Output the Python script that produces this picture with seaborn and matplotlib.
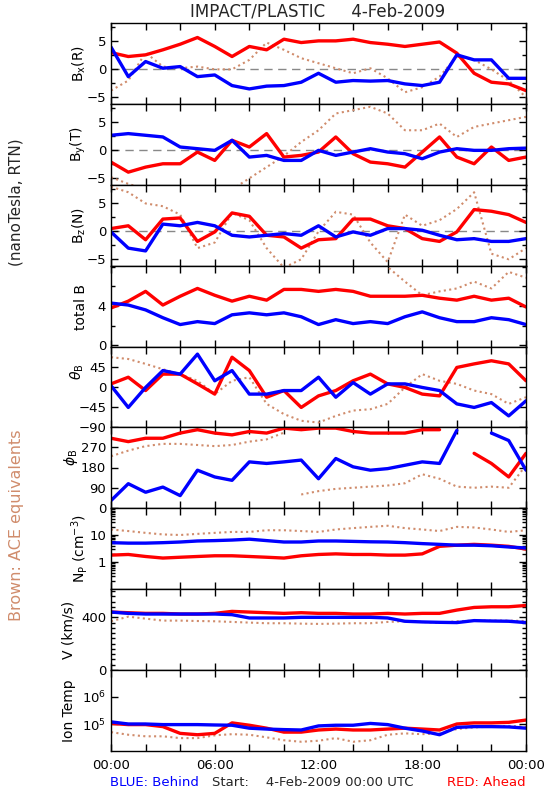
import matplotlib
matplotlib.use("Agg")
import matplotlib.pyplot as plt
import pandas as pd
import seaborn as sns
from matplotlib.ticker import MultipleLocator, FixedLocator, FixedFormatter, NullFormatter, LogLocator

# hourly samples, 00:00 to 24:00 UT on 4-Feb-2009
hours = list(range(25))

# Bx (R), nT
bx_ahead = [3.0, 2.3, 2.6, 3.5, 4.5, 5.7, 4.1, 2.3, 4.1, 3.5, 5.4, 4.8, 5.1, 5.1, 5.4, 4.8, 4.5, 4.1, 4.5, 4.9, 2.9, -0.7, -2.3, -2.6, -3.8]
bx_behind = [4.0, -1.3, 1.4, 0.2, 0.5, -1.3, -1.0, -2.9, -3.5, -3.0, -2.9, -2.3, -0.7, -2.3, -2.0, -2.1, -2.0, -2.6, -2.9, -2.3, 2.6, 1.7, 1.7, -1.6, -1.6]
bx_ace = [-3.8, -2.0, 3.0, 0.5, 0.2, 0.5, 0.0, 0.0, 1.7, 4.8, 3.5, 2.0, 1.1, 0.2, -0.7, 0.2, -1.6, -4.1, -3.2, -1.3, 2.3, 1.7, 0.0, -2.0, -5.0]

# By (T), nT
by_ahead = [-2.1, -3.9, -3.0, -2.4, -2.4, -0.3, -1.8, 1.8, 0.6, 3.0, -1.2, -0.9, -0.3, 2.4, -0.6, -2.1, -2.4, -3.0, -0.3, 2.4, -1.2, -2.4, 0.6, -1.8, -1.2]
by_behind = [2.7, 3.0, 2.7, 2.4, 0.6, 0.3, 0.0, 1.8, -1.2, -0.9, -1.8, -1.8, 0.0, -0.9, -0.3, 0.3, -0.3, -0.6, -1.5, -0.3, 0.3, 0.0, 0.0, 0.3, 0.4]
by_ace = [-4.8, -6.0, -7.0, -8.0, -8.0, -8.0, -8.0, -7.0, -5.0, -3.0, -1.0, 1.5, 3.6, 6.6, 7.2, 7.8, 6.6, 3.6, 3.6, 4.8, 2.4, 4.2, 4.8, 5.4, 6.0]

# Bz (N), nT
bz_ahead = [0.5, 1.0, -1.5, 2.2, 2.4, -1.8, -0.1, 3.3, 2.7, -0.7, -1.0, -3.0, -1.5, -1.3, 2.2, 2.2, 1.0, 0.5, -1.3, -1.8, -0.1, 3.9, 3.6, 3.0, 1.6]
bz_behind = [-0.1, -3.0, -3.5, 1.3, 1.0, 1.6, 1.0, -0.7, -1.0, -0.7, -0.4, -0.7, 1.0, -1.0, -0.1, -0.7, 0.5, 0.5, 0.2, -0.7, -1.5, -1.3, -1.8, -1.8, -1.3]
bz_ace = [8.0, 7.0, 5.0, 4.5, 3.0, -3.0, -2.0, 3.3, 2.0, -3.0, -6.5, -5.0, 0.0, 3.5, 3.0, -2.0, -5.5, 3.0, 1.0, 2.0, 4.0, 7.0, -4.0, -5.0, -3.0]

# total B, nT
bt_ahead = [3.8, 4.5, 5.5, 4.1, 5.0, 5.8, 5.1, 4.5, 5.0, 4.6, 5.7, 5.7, 5.5, 5.7, 5.5, 5.0, 5.0, 5.0, 5.1, 4.8, 4.6, 5.0, 4.6, 4.8, 3.9]
bt_behind = [4.3, 4.1, 3.6, 2.8, 2.1, 2.4, 2.2, 3.1, 3.3, 3.1, 3.3, 2.9, 2.1, 2.6, 2.2, 2.4, 2.2, 2.9, 3.4, 2.8, 2.4, 2.4, 2.8, 2.6, 2.1]
bt_ace = [9.5, 9.5, 9.5, 9.5, 9.5, 9.5, 9.5, 9.5, 9.5, 9.5, 9.5, 9.5, 9.5, 9.5, 9.5, 9.0, 8.0, 6.5, 5.1, 5.5, 5.8, 6.5, 5.8, 7.5, 6.9]

# theta_B, deg
th_ahead = [7, 22, -8, 29, 29, 7, -16, 67, 37, -23, -8, -46, -20, -8, 14, 29, 7, -1, -16, -20, 44, 52, 59, 52, 14]
th_behind = [3, -46, -1, 37, 29, 74, 14, 37, -16, -16, -8, -8, 22, -23, 10, -16, 7, 7, -1, -8, -38, -46, -35, -65, -31]
th_ace = [67, 63, 52, 40, 29, 14, -16, 14, 22, -38, -61, -76, -80, -65, -53, -50, -38, -1, 29, 14, 7, -8, -16, -38, -23]

# phi_B, deg
ph_ahead = [310, 295, 310, 310, 333, 348, 333, 325, 340, 333, 355, 348, 355, 355, 340, 333, 333, 333, 348, 348, 48, 243, 198, 138, 243]
ph_behind = [33, 108, 70, 93, 55, 168, 138, 123, 205, 198, 205, 213, 130, 220, 183, 168, 175, 190, 205, 198, 345, 18, 333, 300, 168]
ph_ace = [230, 255, 275, 285, 285, 280, 275, 280, 295, 305, 335, 60, 75, 85, 90, 95, 100, 110, 150, 130, 95, 90, 95, 90, 190]

# proton density, cm^-3
np_ahead = [1.8, 1.9, 1.6, 1.4, 1.5, 1.6, 1.7, 1.7, 1.6, 1.5, 1.4, 1.7, 1.9, 2.0, 1.9, 1.9, 1.8, 1.8, 2.0, 3.8, 4.2, 4.5, 4.2, 3.8, 3.0]
np_behind = [5.2, 5.0, 5.0, 5.2, 5.5, 6.0, 6.2, 6.5, 7.0, 6.2, 5.5, 5.5, 6.0, 6.0, 5.8, 5.6, 5.5, 5.2, 4.8, 4.5, 4.2, 4.2, 4.0, 3.6, 3.3]
np_ace = [16, 14, 12, 10.5, 10, 11, 12, 13, 13, 15, 15, 14, 13, 16, 18, 20, 22, 18, 16, 14, 20, 19, 16, 13, 15]

# bulk speed, km/s
v_ahead = [440, 435, 430, 430, 425, 425, 430, 445, 440, 435, 430, 435, 430, 430, 425, 425, 430, 425, 430, 430, 455, 475, 480, 480, 490]
v_behind = [440, 430, 425, 425, 425, 425, 425, 420, 395, 395, 395, 400, 400, 400, 400, 400, 395, 370, 365, 362, 360, 375, 372, 370, 360]
v_ace = [370, 405, 390, 375, 375, 372, 370, 365, 360, 355, 355, 352, 350, 352, 355, 355, 365, 370, 365, 358, 370, 375, 375, 375, 372]

# ion temperature, K
t_ahead = [1.05e5, 0.95e5, 0.95e5, 0.8e5, 0.45e5, 0.4e5, 0.45e5, 1.1e5, 0.9e5, 0.7e5, 0.5e5, 0.5e5, 0.6e5, 0.65e5, 0.6e5, 0.6e5, 0.65e5, 0.7e5, 0.65e5, 0.6e5, 1.0e5, 1.1e5, 1.1e5, 1.15e5, 1.4e5]
t_behind = [1.2e5, 1.0e5, 1.0e5, 0.95e5, 0.95e5, 0.95e5, 0.92e5, 0.9e5, 0.7e5, 0.65e5, 0.62e5, 0.6e5, 0.85e5, 0.9e5, 0.9e5, 1.05e5, 0.95e5, 0.7e5, 0.55e5, 0.4e5, 0.75e5, 0.8e5, 0.8e5, 0.78e5, 0.7e5]
t_ace = [0.5e5, 0.4e5, 0.35e5, 0.35e5, 0.3e5, 0.3e5, 0.38e5, 0.42e5, 0.4e5, 0.32e5, 0.25e5, 0.22e5, 0.24e5, 0.3e5, 0.22e5, 0.25e5, 0.4e5, 0.45e5, 0.42e5, 0.45e5, 0.65e5, 0.75e5, 0.8e5, 0.85e5, 0.8e5]

RED = "#ff0000"
BLUE = "#0000ff"
BROWN = "#d08c6c"

sns.set_theme(style="ticks")
plt.rcParams['font.family'] = ['DejaVu Sans']
plt.rcParams['axes.linewidth'] = 1.0


def draw(ax, ahead, behind, ace, wrap=False):
    for vals, col, lw, ls in ((ace, BROWN, 1.5, (0, (1, 1.6))), (ahead, RED, 2.4, "-"), (behind, BLUE, 2.4, "-")):
        d = pd.DataFrame({"hour": hours, "value": vals})
        # break the line where an angle wraps past 360
        d["seg"] = (d["value"].diff().abs() > 180).cumsum() if wrap else 0
        sns.lineplot(data=d, x="hour", y="value", units="seg", estimator=None,
                     color=col, linewidth=lw, linestyle=ls, ax=ax, legend=False)


fig = plt.figure(figsize=(5.5, 8), dpi=100)
left, right = 111 / 550, 526 / 550
tops = [23, 104, 185, 266, 347, 427, 508, 589, 670]
bots = tops[1:] + [751]
axes = [fig.add_axes([left, 1 - b / 800, right - left, (b - t) / 800]) for t, b in zip(tops, bots)]

panels = [
    (bx_ahead, bx_behind, bx_ace, r"B$_{\rm x}$(R)"),
    (by_ahead, by_behind, by_ace, r"B$_{\rm y}$(T)"),
    (bz_ahead, bz_behind, bz_ace, r"B$_{\rm z}$(N)"),
    (bt_ahead, bt_behind, bt_ace, "total B"),
    (th_ahead, th_behind, th_ace, r"$\theta_{\rm B}$"),
    (ph_ahead, ph_behind, ph_ace, r"$\phi_{\rm B}$"),
    (np_ahead, np_behind, np_ace, r"N$_{\rm P}$ (cm$^{-3}$)"),
    (v_ahead, v_behind, v_ace, "V (km/s)"),
    (t_ahead, t_behind, t_ace, "Ion Temp"),
]
# right edge (px) and vertical place (axes fraction) of each y label
label_x = [88, 88, 88, 88, 86, 80, 90, 76, 76]
label_y = [0.5, 0.5, 0.5, 0.5, 0.69, 0.63, 0.5, 0.5, 0.5]

for i, (ax, (a, b, c, lab)) in enumerate(zip(axes, panels)):
    if i in (6, 8):
        ax.set_yscale("log")
    draw(ax, a, b, c, wrap=(i == 5))
    ax.set_xlim(0, 24)
    ax.xaxis.set_major_locator(MultipleLocator(2))
    ax.set_xlabel("")
    ax.set_ylabel(lab, fontsize=10, color="black")
    ax.yaxis.set_label_coords((label_x[i] - 111) / 415, label_y[i])
    ax.tick_params(axis="both", which="both", direction="in", top=True, right=True,
                   labelsize=9.5, colors="black")
    ax.tick_params(which="major", length=5, width=1)
    ax.tick_params(which="minor", length=3, width=1)
    for s in ax.spines.values():
        s.set_color("black")
    if i < 8:
        ax.set_xticklabels([])
    if i < 3:
        ax.axhline(0, color="#888888", lw=1, ls=(0, (6, 4)), zorder=0)
        ax.set_ylim(-6.2, 8.3)
        ax.yaxis.set_major_locator(FixedLocator([-5, 0, 5]))
        ax.yaxis.set_minor_locator(MultipleLocator(2.5))

axes[3].set_ylim(-0.2, 8.1)
axes[3].yaxis.set_major_locator(FixedLocator([0, 4]))
axes[3].yaxis.set_minor_locator(MultipleLocator(2))
axes[4].set_ylim(-90, 90)
axes[4].yaxis.set_major_locator(FixedLocator([-90, -45, 0, 45]))
axes[5].set_ylim(0, 360)
axes[5].yaxis.set_major_locator(FixedLocator([0, 90, 180, 270]))
axes[6].set_ylim(0.1, 100)
axes[6].yaxis.set_major_locator(FixedLocator([1, 10]))
axes[6].yaxis.set_major_formatter(FixedFormatter(["1", "10"]))
axes[6].yaxis.set_minor_locator(LogLocator(base=10, subs=range(2, 10)))
axes[6].yaxis.set_minor_formatter(NullFormatter())
axes[7].set_ylim(0, 615)
axes[7].yaxis.set_major_locator(FixedLocator([0, 400]))
axes[7].yaxis.set_minor_locator(MultipleLocator(40))
axes[8].set_ylim(1e4, 1e7)
axes[8].yaxis.set_major_locator(FixedLocator([1e5, 1e6]))
axes[8].yaxis.set_major_formatter(FixedFormatter([r"10$^5$", r"10$^6$"]))
axes[8].yaxis.set_minor_locator(FixedLocator([]))

tick_names = {0: "00:00", 6: "06:00", 12: "12:00", 18: "18:00", 24: "00:00"}
axes[8].set_xticks(range(0, 25, 2))
axes[8].set_xticklabels([tick_names.get(h, "") for h in range(0, 25, 2)], fontsize=9.5)
axes[8].tick_params(axis="x", pad=6)

fig.text(318 / 550, 1 - 11 / 800, "IMPACT/PLASTIC     4-Feb-2009", ha="center", va="center", fontsize=12)
fig.text(16 / 550, 1 - 202 / 800, "(nanoTesla, RTN)", rotation=90, ha="center", va="center", fontsize=11)
fig.text(17 / 550, 1 - 525 / 800, "Brown: ACE equivalents", rotation=90, ha="center", va="center",
         fontsize=11.5, color=BROWN)
fig.text(110 / 550, 1 - 783 / 800, "BLUE: Behind", ha="left", va="center", fontsize=9.5, color=BLUE)
fig.text(212 / 550, 1 - 783 / 800, "Start:    4-Feb-2009 00:00 UTC", ha="left", va="center", fontsize=9.5)
fig.text(526 / 550, 1 - 783 / 800, "RED: Ahead", ha="right", va="center", fontsize=9.5, color=RED)

fig.savefig("out.png", dpi=100, facecolor="white")
